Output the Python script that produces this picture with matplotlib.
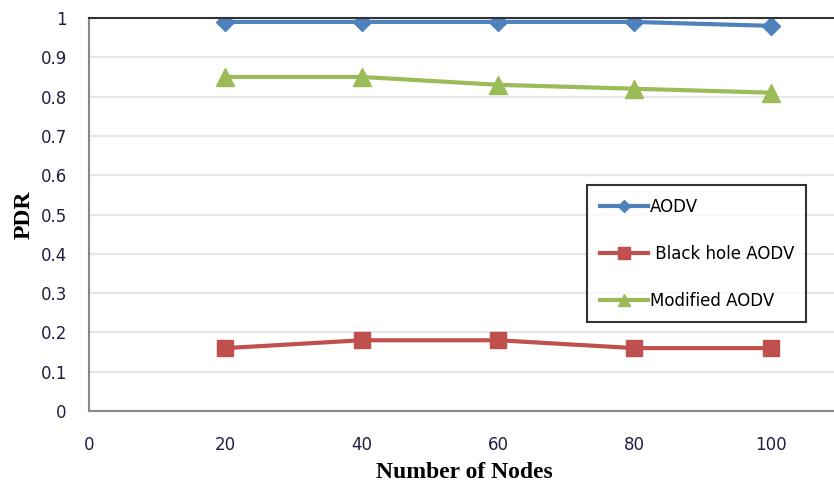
import numpy as np
import matplotlib
matplotlib.use("Agg")
import matplotlib.pyplot as plt

nodes = [20, 40, 60, 80, 100]
aodv = [0.99, 0.99, 0.99, 0.99, 0.98]
blackhole = [0.16, 0.18, 0.18, 0.16, 0.16]
modified = [0.85, 0.85, 0.83, 0.82, 0.81]

fig = plt.figure(figsize=(8.34, 4.84), dpi=100)
ax = fig.add_axes([89 / 834, 73 / 484, 750 / 834, 393 / 484])

ax.plot(nodes, aodv, color="#4F81BD", lw=3, marker="D", ms=9, label="AODV")
ax.plot(nodes, blackhole, color="#C0504D", lw=3, marker="s", ms=12, label=" Black hole AODV")
ax.plot(nodes, modified, color="#9BBB59", lw=3, marker="^", ms=13, label="Modified AODV")

ax.set_xlim(0, 110)
ax.set_ylim(0, 1)
ax.set_xticks([0, 20, 40, 60, 80, 100])
ax.set_yticks(np.arange(0, 1.01, 0.1))
ax.set_yticklabels(["0", "0.1", "0.2", "0.3", "0.4", "0.5", "0.6", "0.7", "0.8", "0.9", "1"])
ax.grid(axis="y", color="#E6E6E6", lw=1.5)
ax.set_axisbelow(True)
ax.tick_params(length=0, labelsize=12, labelcolor="#1F2040")
ax.tick_params(axis="y", pad=16)
ax.tick_params(axis="x", pad=18)
for s in ["left", "bottom"]:
    ax.spines[s].set_color("#888888")
    ax.spines[s].set_linewidth(1.5)
ax.spines["top"].set_color("#333333")
ax.spines["top"].set_linewidth(1.5)
ax.spines["right"].set_visible(False)

ax.set_xlabel("Number of Nodes", family="Liberation Serif", fontweight="bold", fontsize=17, labelpad=6)
ax.set_ylabel("PDR", family="Liberation Serif", fontweight="bold", fontsize=17, labelpad=4)

leg = ax.legend(loc="upper left", bbox_to_anchor=(587 / 834, (484 - 185) / 484),
                bbox_transform=fig.transFigure, fontsize=12, frameon=True, fancybox=False,
                labelspacing=1.75, handlelength=2.9, handletextpad=0.1, borderpad=0.75,
                borderaxespad=0, markerscale=0.7)
leg.get_frame().set_edgecolor("black")
leg.get_frame().set_linewidth(1.5)

fig.savefig("out.png", dpi=100)
